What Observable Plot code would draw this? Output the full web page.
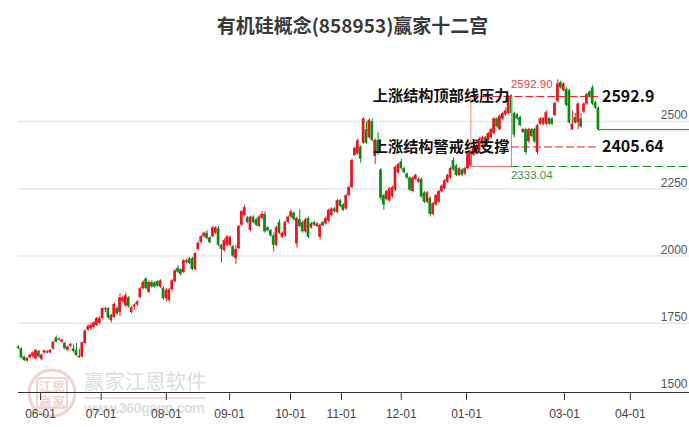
<!DOCTYPE html>
<html><head><meta charset="utf-8">
<style>
html,body{margin:0;padding:0;background:#fff;width:689px;height:427px;overflow:hidden}
#wrap{position:relative;width:689px;height:427px}
#title{position:absolute;left:0;top:12px;width:705px;text-align:center;font:bold 19px "Noto Sans CJK SC";color:#3a3a3a;line-height:26px}
#mark{position:absolute;left:0;top:0}
#chart{position:absolute;left:0;top:0}
</style>
<script src="https://cdn.jsdelivr.net/npm/d3@7"></script>
<script src="https://cdn.jsdelivr.net/npm/@observablehq/plot@0.6"></script>
</head><body>
<div id="wrap">
<svg id="mark" width="689" height="427">
  <circle cx="52" cy="393" r="23" fill="none" stroke="#efd3d3" stroke-width="3"/>
  <rect x="37" y="378" width="30" height="30" rx="3" fill="none" stroke="#efd3d3" stroke-width="2"/>
  <text x="52" y="391" text-anchor="middle" font-family="Noto Sans CJK SC" font-weight="bold" font-size="13" fill="#efd3d3">江恩</text>
  <text x="52" y="406" text-anchor="middle" font-family="Noto Sans CJK SC" font-weight="bold" font-size="13" fill="#efd3d3">赢家</text>
  <text x="84" y="389" font-family="Noto Sans CJK SC" font-size="20.4" fill="#dcdcdc">赢家江恩软件</text>
  <line x1="84" x2="205" y1="398" y2="398" stroke="#efdcdc" stroke-width="2"/>
  <text x="84" y="413" font-family="Liberation Sans" font-weight="bold" font-size="14.5" fill="#dedede" textLength="121">www.360gann.com</text>
</svg>
<div id="title">有机硅概念(858953)赢家十二宫</div>
<div id="chart"></div>
</div>
<script>
const opens = [
1662,1655,1625,1610,1622,1626,1618,1645,1616,1640,
1645,1640,1655,1695,1688,1680,1675,1650,1665,1655,
1650,1628,1625,1675,1725,1730,1735,1742,1750,1768,
1800,1805,1760,1772,1805,1790,1830,1815,1845,1790,
1810,1818,1846,1879,1915,1865,1902,1900,1905,1885,
1880,1842,1835,1875,1905,1955,1950,1939,1975,1990,
1990,1950,2025,2050,2072,2085,2068,2072,2085,2102,
2040,2020,2040,2040,2035,1990,2028,2115,2150,2142,
2095,2145,2135,2110,2140,2155,2105,2095,2075,2040,
2125,2070,2075,2125,2145,2160,2045,2135,2125,2090,
2140,2105,2125,2110,2070,2125,2120,2130,2150,2175,
2162,2206,2190,2175,2225,2255,2374,2380,2405,2420,
2470,2440,2500,2370,2430,2320,2225,2210,2205,2220,
2245,2310,2350,2325,2305,2290,2240,2285,2275,2285,
2235,2200,2215,2155,2190,2200,2240,2250,2275,2290,
2355,2335,2300,2320,2305,2325,2335,2375,2385,2385,
2415,2440,2430,2440,2455,2510,2470,2510,2525,2530,
2595,2530,2525,2515,2460,2470,2425,2470,2470,2385,
2490,2490,2490,2510,2510,2522,2575,2645,2615,2620,
2615,2470,2515,2495,2510,2535,2565,2610,2625,2570,2550];
const closes = [
1656,1622,1612,1620,1632,1640,1650,1625,1632,1648,
1640,1650,1680,1680,1693,1688,1655,1662,1672,1645,
1630,1622,1678,1722,1738,1742,1752,1768,1768,1805,
1805,1770,1780,1820,1785,1845,1845,1853,1812,1808,
1818,1830,1879,1902,1879,1902,1885,1885,1888,1908,
1842,1872,1875,1908,1945,1940,1932,1983,1983,1972,
1950,2010,2048,2072,2085,2065,2050,2105,2105,2040,
2025,2058,2072,2070,2000,2025,2110,2165,2180,2125,
2145,2125,2115,2145,2155,2090,2095,2075,2040,2105,
2085,2085,2125,2145,2165,2135,2140,2110,2090,2135,
2070,2120,2115,2120,2115,2112,2140,2170,2175,2165,
2206,2185,2170,2225,2255,2355,2400,2429,2360,2510,
2420,2505,2430,2430,2380,2215,2190,2240,2250,2255,
2330,2340,2325,2310,2290,2245,2290,2300,2285,2220,
2200,2235,2155,2195,2225,2240,2260,2280,2300,2325,
2320,2300,2325,2300,2325,2385,2385,2400,2410,2435,
2440,2410,2455,2470,2510,2480,2520,2530,2540,2590,
2530,2450,2510,2485,2470,2385,2470,2445,2425,2485,
2510,2512,2533,2490,2490,2567,2640,2625,2640,2560,
2495,2490,2495,2565,2480,2565,2600,2590,2565,2550,2470];
const highs = [
1668,1658,1628,1624,1636,1644,1652,1650,1636,1650,
1648,1652,1682,1703,1696,1690,1680,1666,1676,1670,
1675,1655,1680,1725,1745,1752,1758,1772,1775,1808,
1810,1808,1784,1828,1812,1860,1850,1862,1850,1812,
1822,1834,1884,1908,1920,1908,1908,1905,1908,1912,
1885,1880,1880,1912,1950,1965,1952,1988,1988,1995,
1995,2012,2052,2076,2090,2095,2072,2110,2110,2110,
2044,2065,2076,2075,2040,2040,2115,2170,2190,2148,
2148,2150,2140,2150,2165,2165,2110,2100,2085,2110,
2135,2090,2130,2150,2170,2165,2145,2172,2130,2140,
2145,2125,2130,2125,2120,2130,2145,2175,2180,2180,
2210,2210,2195,2230,2260,2360,2405,2435,2410,2515,
2500,2510,2510,2435,2460,2325,2230,2245,2255,2260,
2335,2345,2360,2330,2310,2295,2295,2305,2290,2290,
2240,2240,2220,2200,2230,2245,2265,2285,2305,2330,
2365,2340,2330,2325,2330,2390,2390,2405,2415,2440,
2445,2445,2460,2475,2515,2515,2525,2535,2550,2597,
2600,2535,2530,2520,2475,2475,2475,2475,2475,2490,
2515,2515,2540,2515,2515,2572,2655,2650,2645,2625,
2620,2540,2530,2570,2530,2570,2605,2615,2635,2575,2555];
const lows = [
1652,1618,1608,1605,1618,1618,1616,1620,1612,1636,
1637,1636,1650,1678,1684,1676,1652,1646,1660,1640,
1628,1620,1622,1672,1720,1726,1730,1738,1745,1765,
1790,1765,1752,1768,1778,1775,1825,1810,1806,1785,
1800,1814,1842,1875,1875,1860,1880,1880,1884,1880,
1835,1830,1828,1870,1900,1935,1925,1935,1970,1968,
1945,1945,2020,2046,2068,2060,2045,2068,2080,2035,
1975,2015,2035,2035,1995,1968,2024,2110,2146,2120,
2090,2120,2110,2105,2135,2085,2090,2070,2015,2035,
2080,2065,2070,2120,2140,2130,2030,2105,2085,2085,
2065,2100,2110,2105,2060,2108,2115,2125,2145,2160,
2158,2180,2165,2170,2220,2250,2370,2375,2345,2415,
2415,2435,2425,2340,2375,2205,2170,2205,2200,2215,
2240,2305,2320,2305,2285,2240,2235,2280,2270,2215,
2195,2195,2145,2150,2185,2195,2235,2245,2270,2285,
2315,2295,2295,2295,2300,2320,2330,2370,2380,2380,
2410,2405,2425,2435,2450,2475,2465,2505,2520,2525,
2525,2440,2505,2480,2455,2375,2420,2440,2420,2375,
2485,2485,2485,2485,2485,2518,2570,2620,2610,2555,
2490,2465,2490,2470,2475,2530,2560,2585,2560,2545,2465];

const xTickIndex = [7.6,28.5,51,72.8,93.8,111.4,132,154.5,188.3,211];
const xTickLabels = ["06-01","07-01","08-01","09-01","10-01","11-01","12-01","01-01","03-01","04-01"];
const yTicks = [1500,1750,2000,2250,2500];
const gridTicks = [1750,2000,2250,2500];
const topLevel = 2592.9, warnLevel = 2405.64, baseLevel = 2333.04, lastClose = 2470;
const boxStart = 156, boxEnd = 170, lastIndex = 200, xMax = 231.4, yMin = 1493, yMax = 2950;

const candles = opens.map((o,i)=>({i,o,c:closes[i],h:highs[i],l:lows[i],up:closes[i]>=o}));
const RED="#ee141e", GREEN="#0e8a14", BOX="#f08080";
const cjk="Noto Sans CJK SC";
const tickName = new Map(xTickIndex.map((v,k)=>[v,xTickLabels[k]]));

const plot = Plot.plot({
  width:689,height:427,marginLeft:18,marginRight:0,marginTop:0,marginBottom:35,
  style:{background:"transparent",fontFamily:"Liberation Sans"},
  x:{domain:[0,xMax],axis:null},
  y:{domain:[yMin,yMax],axis:null},
  marks:[
    Plot.ruleY(gridTicks,{stroke:"#e8e8e8",strokeWidth:1.5}),
    Plot.ruleY([yMin],{stroke:"#333",strokeWidth:1}),
    Plot.axisX(xTickIndex,{anchor:"bottom",tickSize:8,tickPadding:9,tickFormat:d=>tickName.get(d),label:null,fontSize:12,stroke:"#333",color:"#444",fill:"#444"}),
    Plot.text(yTicks,{x:xMax,y:d=>d,dy:-6,dx:-2,text:d=>String(d),textAnchor:"end",fontSize:12,fill:"#555"}),
    Plot.ruleX(candles,{x:"i",y1:"l",y2:"h",stroke:d=>d.up?RED:GREEN,strokeWidth:1}),
    Plot.rect(candles,{x1:d=>d.i-0.46,x2:d=>d.i+0.46,y1:"o",y2:"c",fill:d=>d.up?RED:GREEN}),
    Plot.ruleX([boxStart,boxEnd],{y1:baseLevel,y2:topLevel,stroke:BOX,strokeWidth:1}),
    Plot.ruleY([baseLevel],{x1:boxStart,x2:boxEnd,stroke:BOX,strokeWidth:1}),
    Plot.ruleY([topLevel],{x1:boxStart,x2:lastIndex,stroke:RED,strokeWidth:1,strokeDasharray:"8,3"}),
    Plot.ruleY([warnLevel],{x1:boxEnd,x2:lastIndex,stroke:RED,strokeWidth:1,strokeDasharray:"8,3"}),
    Plot.ruleY([baseLevel],{x1:boxEnd,x2:xMax,stroke:GREEN,strokeWidth:1,strokeDasharray:"8,4"}),
    Plot.ruleY([lastClose],{x1:lastIndex,x2:xMax,stroke:GREEN,strokeWidth:1}),
    Plot.text([topLevel],{x:boxEnd,y:d=>d,dy:-12.5,dx:-0.5,text:d=>d.toFixed(2),textAnchor:"start",fontSize:11.5,fill:"#e8404a"}),
    Plot.text([baseLevel],{x:boxEnd,y:d=>d,dy:9,dx:-0.5,text:d=>d.toFixed(2),textAnchor:"start",fontSize:11.5,fill:"#3f8f48"}),
    Plot.text([topLevel],{x:boxEnd,y:d=>d,dx:-2,text:()=>"上涨结构顶部线压力",textAnchor:"end",fontFamily:cjk,fontWeight:"bold",fontSize:15.2,fill:"#111"}),
    Plot.text([warnLevel],{x:boxEnd,y:d=>d,dx:-2,text:()=>"上涨结构警戒线支撑",textAnchor:"end",fontFamily:cjk,fontWeight:"bold",fontSize:15.2,fill:"#111"}),
    Plot.text([topLevel],{x:lastIndex,y:d=>d,dx:3.5,text:d=>String(d),textAnchor:"start",fontFamily:cjk,fontWeight:"bold",fontSize:16,fill:"#111"}),
    Plot.text([warnLevel],{x:lastIndex,y:d=>d,dx:3.5,text:d=>String(d),textAnchor:"start",fontFamily:cjk,fontWeight:"bold",fontSize:16,fill:"#111"})
  ]
});
document.getElementById("chart").appendChild(plot);
</script>
</body></html>
